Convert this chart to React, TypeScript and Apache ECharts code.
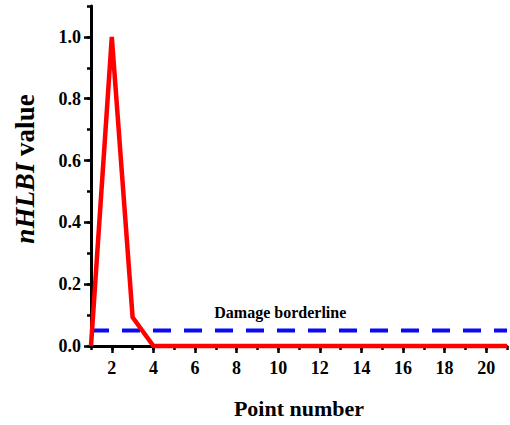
import React, { useEffect, useRef } from "react";
import * as echarts from "echarts";

const pointNumbers = [1, 2, 3, 4, 5, 6, 7, 8, 9, 10, 11, 12, 13, 14, 15, 16, 17, 18, 19, 20, 21];
const nhlbiValues = [0, 1.0, 0.093, 0, 0, 0, 0, 0, 0, 0, 0, 0, 0, 0, 0, 0, 0, 0, 0, 0, 0];
const borderlineValue = 0.05;
const borderlineLabel = "Damage borderline";
const yTickValues = ["0.0", "0.1", "0.2", "0.3", "0.4", "0.5", "0.6", "0.7", "0.8", "0.9", "1.0", "1.1"];

const FONT = "'Liberation Serif', 'Times New Roman', serif";

export default function App() {
  const ref = useRef<HTMLDivElement>(null);
  useEffect(() => {
    if (!ref.current) return;
    const chart = echarts.init(ref.current, null, { renderer: "svg" });
    const xMin = pointNumbers[0];
    const xMax = pointNumbers[pointNumbers.length - 1];
    chart.setOption({
      animation: false,
      backgroundColor: "#ffffff",
      grid: { left: 91, right: 1, top: 6, bottom: 79 },
      graphic: [
        {
          type: "text",
          x: 25,
          y: 169,
          rotation: Math.PI / 2,
          style: {
            text: "{it|nHLBI} value",
            align: "center",
            verticalAlign: "middle",
            fontFamily: FONT,
            fontWeight: "bold",
            fontSize: 27,
            fill: "#000",
            rich: {
              it: { fontFamily: FONT, fontWeight: "bold", fontStyle: "italic", fontSize: 27, fill: "#000" },
            },
          },
        },
      ],
      xAxis: [
        {
          type: "value",
          min: xMin,
          max: xMax,
          interval: 1,
          name: "Point number",
          nameLocation: "middle",
          nameGap: 51,
          nameTextStyle: { fontFamily: FONT, fontWeight: "bold", fontSize: 22, color: "#000" },
          axisLine: { show: true, onZero: false, lineStyle: { color: "#000", width: 3 } },
          axisTick: { show: true, inside: false, length: 4, lineStyle: { color: "#000", width: 2.5 } },
          axisLabel: {
            margin: 13,
            fontFamily: FONT,
            fontWeight: "bold",
            fontSize: 18,
            color: "#000",
            formatter: (v: number) => (Math.round(v) % 2 === 0 ? String(Math.round(v)) : ""),
          },
          splitLine: { show: false },
        },
        {
          type: "category",
          data: pointNumbers.map(String),
          boundaryGap: false,
          position: "bottom",
          axisLine: { show: false },
          axisTick: {
            show: true,
            length: 7,
            interval: (i: number) => i % 2 === 1,
            lineStyle: { color: "#000", width: 2.5 },
          },
          axisLabel: { show: false },
          splitLine: { show: false },
        },
      ],
      yAxis: [
        {
          type: "value",
          min: 0,
          max: 1.1,
          interval: 0.1,
          axisLine: { show: true, lineStyle: { color: "#000", width: 3 } },
          axisTick: { show: true, inside: false, length: 4, lineStyle: { color: "#000", width: 2.5 } },
          axisLabel: {
            margin: 10,
            fontFamily: FONT,
            fontWeight: "bold",
            fontSize: 18,
            color: "#000",
            formatter: (v: number) => {
              const k = Math.round(v * 10);
              return k % 2 === 0 && k <= 10 ? v.toFixed(1) : "";
            },
          },
          splitLine: { show: false },
        },
        {
          type: "category",
          data: yTickValues,
          boundaryGap: false,
          position: "left",
          axisLine: { show: false },
          axisTick: {
            show: true,
            length: 7,
            interval: (i: number) => i % 2 === 0 && i <= 10,
            lineStyle: { color: "#000", width: 2.5 },
          },
          axisLabel: { show: false },
          splitLine: { show: false },
        },
      ],
      series: [
        {
          type: "line",
          xAxisIndex: 0,
          yAxisIndex: 0,
          data: [
            [xMin, borderlineValue],
            [xMax, borderlineValue],
          ],
          showSymbol: false,
          clip: false,
          lineStyle: { color: "#0a0af5", width: 4, type: [18, 13] },
          z: 3,
          markPoint: {
            symbol: "rect",
            symbolSize: 0,
            data: [{ coord: [10.1, borderlineValue] }],
            label: {
              show: true,
              position: "inside",
              offset: [0, -18],
              formatter: borderlineLabel,
              fontFamily: FONT,
              fontWeight: "bold",
              fontSize: 16,
              color: "#000",
            },
          },
        },
        {
          type: "line",
          xAxisIndex: 0,
          yAxisIndex: 0,
          data: pointNumbers.map((x, i) => [x, nhlbiValues[i]]),
          showSymbol: false,
          clip: false,
          lineStyle: { color: "#ff0000", width: 4.5 },
          z: 4,
        },
      ],
    });
    return () => chart.dispose();
  }, []);
  return <div ref={ref} style={{ position: "absolute", left: 0, top: 0, width: 510, height: 425 }} />;
}
